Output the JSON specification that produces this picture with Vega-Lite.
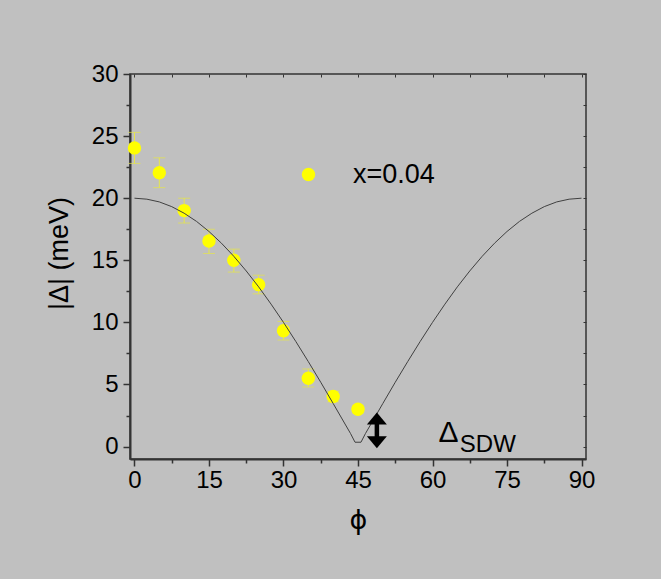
{
  "$schema": "https://vega.github.io/schema/vega-lite/v6.json",
  "width": 456,
  "height": 385,
  "autosize": {"type": "none"},
  "padding": {"left": 130, "top": 74, "right": 75, "bottom": 120},
  "background": "#c0c0c0",
  "config": {
    "view": {"stroke": "#333333", "strokeWidth": 1.5},
    "font": "Liberation Sans",
    "axis": {"grid": false, "labelFont": "Liberation Sans", "titleFont": "Liberation Sans"}
  },
  "datasets": {
    "pts": [
      {"phi": 0, "gap": 24.05, "lo": 22.8, "hi": 25.3, "series": "x=0.04"},
      {"phi": 5, "gap": 22.05, "lo": 20.85, "hi": 23.25, "series": "x=0.04"},
      {"phi": 10, "gap": 19.0, "lo": 18.0, "hi": 20.0, "series": "x=0.04"},
      {"phi": 15, "gap": 16.55, "lo": 15.55, "hi": 17.5, "series": "x=0.04"},
      {"phi": 20, "gap": 15.0, "lo": 14.05, "hi": 15.9, "series": "x=0.04"},
      {"phi": 25, "gap": 13.04, "lo": 12.3, "hi": 13.8, "series": "x=0.04"},
      {"phi": 30, "gap": 9.33, "lo": 8.58, "hi": 10.08, "series": "x=0.04"},
      {"phi": 35, "gap": 5.5, "lo": 4.8, "hi": 6.25, "series": "x=0.04"},
      {"phi": 40, "gap": 4.03, "lo": 3.6, "hi": 4.45, "series": "x=0.04"},
      {"phi": 45, "gap": 3.0, "lo": 2.7, "hi": 3.3, "series": "x=0.04"}
    ],
    "curve": [
      {"phi": 0, "gap": 20.0}, {"phi": 2.5, "gap": 19.92}, {"phi": 5, "gap": 19.7},
      {"phi": 7.5, "gap": 19.32}, {"phi": 10, "gap": 18.79}, {"phi": 12.5, "gap": 18.13},
      {"phi": 15, "gap": 17.32}, {"phi": 17.5, "gap": 16.38}, {"phi": 20, "gap": 15.32},
      {"phi": 22.5, "gap": 14.14}, {"phi": 25, "gap": 12.86}, {"phi": 27.5, "gap": 11.47},
      {"phi": 30, "gap": 10.0}, {"phi": 32.5, "gap": 8.45}, {"phi": 35, "gap": 6.84},
      {"phi": 37.5, "gap": 5.18}, {"phi": 40, "gap": 3.47}, {"phi": 42.5, "gap": 1.74},
      {"phi": 43.5, "gap": 1.05}, {"phi": 44.4, "gap": 0.35}, {"phi": 45.6, "gap": 0.35},
      {"phi": 46.5, "gap": 1.05}, {"phi": 47.5, "gap": 1.74}, {"phi": 50, "gap": 3.47},
      {"phi": 52.5, "gap": 5.18}, {"phi": 55, "gap": 6.84}, {"phi": 57.5, "gap": 8.45},
      {"phi": 60, "gap": 10.0}, {"phi": 62.5, "gap": 11.47}, {"phi": 65, "gap": 12.86},
      {"phi": 67.5, "gap": 14.14}, {"phi": 70, "gap": 15.32}, {"phi": 72.5, "gap": 16.38},
      {"phi": 75, "gap": 17.32}, {"phi": 77.5, "gap": 18.13}, {"phi": 80, "gap": 18.79},
      {"phi": 82.5, "gap": 19.32}, {"phi": 85, "gap": 19.7}, {"phi": 87.5, "gap": 19.92},
      {"phi": 90, "gap": 20.0}
    ],
    "arrow": [{"phi": 48.8, "top": 2.26, "bottom": 0.35}],
    "delta": [{"phi": 61.2, "v": 0.4, "label": "Δ"}],
    "sdw": [{"phi": 65.5, "v": -0.4, "label": "SDW"}]
  },
  "resolve": {"axis": {"x": "independent", "y": "independent"}},
  "layer": [
    {
      "data": {"name": "pts"},
      "mark": {"type": "rule", "color": "#e6e64a", "strokeWidth": 1},
      "encoding": {
        "x": {"field": "phi", "type": "quantitative", "scale": {"domain": [-0.9, 90.9], "nice": false, "zero": false},
              "axis": {"orient": "top", "values": [0, 7.5, 15, 22.5, 30, 37.5, 45, 52.5, 60, 67.5, 75, 82.5, 90], "tickSize": -3, "tickWidth": 1, "tickColor": "#333333", "labels": false, "domain": false, "title": null}},
        "y": {"field": "lo", "type": "quantitative", "scale": {"domain": [-1, 30], "nice": false, "zero": false},
              "axis": {"orient": "right", "values": [0, 2.5, 5, 7.5, 10, 12.5, 15, 17.5, 20, 22.5, 25, 27.5, 30], "tickSize": -3, "tickWidth": 1, "tickColor": "#333333", "labels": false, "domain": false, "title": null}},
        "y2": {"field": "hi"}
      }
    },
    {
      "data": {"name": "pts"},
      "mark": {"type": "tick", "orient": "horizontal", "size": 12, "thickness": 1, "color": "#e6e64a"},
      "encoding": {
        "x": {"field": "phi", "type": "quantitative", "scale": {"domain": [-0.9, 90.9], "nice": false, "zero": false}, "axis": null},
        "y": {"field": "lo", "type": "quantitative", "scale": {"domain": [-1, 30], "nice": false, "zero": false}, "axis": null}
      }
    },
    {
      "data": {"name": "pts"},
      "mark": {"type": "tick", "orient": "horizontal", "size": 12, "thickness": 1, "color": "#e6e64a"},
      "encoding": {
        "x": {"field": "phi", "type": "quantitative", "scale": {"domain": [-0.9, 90.9], "nice": false, "zero": false}, "axis": null},
        "y": {"field": "hi", "type": "quantitative", "scale": {"domain": [-1, 30], "nice": false, "zero": false}, "axis": null}
      }
    },
    {
      "data": {"name": "pts"},
      "mark": {"type": "point", "shape": "circle", "filled": true, "size": 180, "opacity": 1, "strokeWidth": 0},
      "encoding": {
        "x": {"field": "phi", "type": "quantitative", "scale": {"domain": [-0.9, 90.9], "nice": false, "zero": false},
              "axis": {"orient": "bottom", "values": [7.5, 22.5, 37.5, 52.5, 67.5, 82.5], "tickSize": 4, "tickWidth": 1.5, "tickColor": "#333333", "labels": false, "domain": false, "title": null}},
        "y": {"field": "gap", "type": "quantitative", "scale": {"domain": [-1, 30], "nice": false, "zero": false},
              "axis": {"orient": "left", "values": [2.5, 7.5, 12.5, 17.5, 22.5, 27.5], "tickSize": 4, "tickWidth": 1.5, "tickColor": "#333333", "labels": false, "domain": false, "title": null}},
        "color": {"field": "series", "type": "nominal", "scale": {"range": ["#ffff00"]},
                  "legend": {"orient": "none", "legendX": 165, "legendY": 87, "title": null, "padding": 0,
                             "symbolType": "circle", "symbolSize": 180, "symbolStrokeWidth": 0, "symbolOpacity": 1,
                             "labelFont": "Liberation Sans", "labelFontSize": 27, "labelColor": "#000000", "labelOffset": 31}}
      }
    },
    {
      "data": {"name": "curve"},
      "mark": {"type": "line", "color": "#404040", "strokeWidth": 1},
      "encoding": {
        "x": {"field": "phi", "type": "quantitative", "scale": {"domain": [-0.9, 90.9], "nice": false, "zero": false},
              "axis": {"orient": "bottom", "values": [0, 15, 30, 45, 60, 75, 90], "tickSize": 7, "tickWidth": 1.5, "tickColor": "#333333",
                       "domainColor": "#333333", "domainWidth": 2, "labelFontSize": 24, "labelColor": "#000000", "labelPadding": 2,
                       "labelFlush": false, "labelOverlap": false,
                       "title": "ϕ", "titleFont": "DejaVu Sans", "titleFontSize": 27, "titleFontWeight": "normal", "titleColor": "#000000", "titleY": 48}},
        "y": {"field": "gap", "type": "quantitative", "scale": {"domain": [-1, 30], "nice": false, "zero": false},
              "axis": {"orient": "left", "values": [0, 5, 10, 15, 20, 25, 30], "tickSize": 7, "tickWidth": 1.5, "tickColor": "#333333",
                       "domainColor": "#333333", "domainWidth": 2, "labelFontSize": 24, "labelColor": "#000000", "labelPadding": 5,
                       "labelFlush": false, "labelOverlap": false,
                       "title": "|Δ| (meV)", "titleFontSize": 27, "titleFontWeight": "normal", "titleColor": "#000000", "titleX": -57, "titleY": 179}}
      }
    },
    {
      "data": {"name": "arrow"},
      "mark": {"type": "rule", "color": "#000000", "strokeWidth": 4.5},
      "encoding": {
        "x": {"field": "phi", "type": "quantitative", "scale": {"domain": [-0.9, 90.9], "nice": false, "zero": false}, "axis": null},
        "y": {"field": "top", "type": "quantitative", "scale": {"domain": [-1, 30], "nice": false, "zero": false}, "axis": null},
        "y2": {"field": "bottom"}
      }
    },
    {
      "data": {"name": "arrow"},
      "mark": {"type": "point", "shape": "M-1,0.6L1,0.6L0,-0.6Z", "filled": true, "size": 400, "color": "#000000", "opacity": 1, "strokeWidth": 0},
      "encoding": {
        "x": {"field": "phi", "type": "quantitative", "scale": {"domain": [-0.9, 90.9], "nice": false, "zero": false}, "axis": null},
        "y": {"field": "top", "type": "quantitative", "scale": {"domain": [-1, 30], "nice": false, "zero": false}, "axis": null}
      }
    },
    {
      "data": {"name": "arrow"},
      "mark": {"type": "point", "shape": "M-1,-0.6L1,-0.6L0,0.6Z", "filled": true, "size": 400, "color": "#000000", "opacity": 1, "strokeWidth": 0},
      "encoding": {
        "x": {"field": "phi", "type": "quantitative", "scale": {"domain": [-0.9, 90.9], "nice": false, "zero": false}, "axis": null},
        "y": {"field": "bottom", "type": "quantitative", "scale": {"domain": [-1, 30], "nice": false, "zero": false}, "axis": null}
      }
    },
    {
      "data": {"name": "delta"},
      "mark": {"type": "text", "font": "Liberation Sans", "fontSize": 30, "align": "left", "baseline": "alphabetic", "color": "#000000"},
      "encoding": {
        "x": {"field": "phi", "type": "quantitative", "scale": {"domain": [-0.9, 90.9], "nice": false, "zero": false}, "axis": null},
        "y": {"field": "v", "type": "quantitative", "scale": {"domain": [-1, 30], "nice": false, "zero": false}, "axis": null},
        "text": {"field": "label"}
      }
    },
    {
      "data": {"name": "sdw"},
      "mark": {"type": "text", "font": "Liberation Sans", "fontSize": 24, "align": "left", "baseline": "alphabetic", "color": "#000000"},
      "encoding": {
        "x": {"field": "phi", "type": "quantitative", "scale": {"domain": [-0.9, 90.9], "nice": false, "zero": false}, "axis": null},
        "y": {"field": "v", "type": "quantitative", "scale": {"domain": [-1, 30], "nice": false, "zero": false}, "axis": null},
        "text": {"field": "label"}
      }
    }
  ]
}
